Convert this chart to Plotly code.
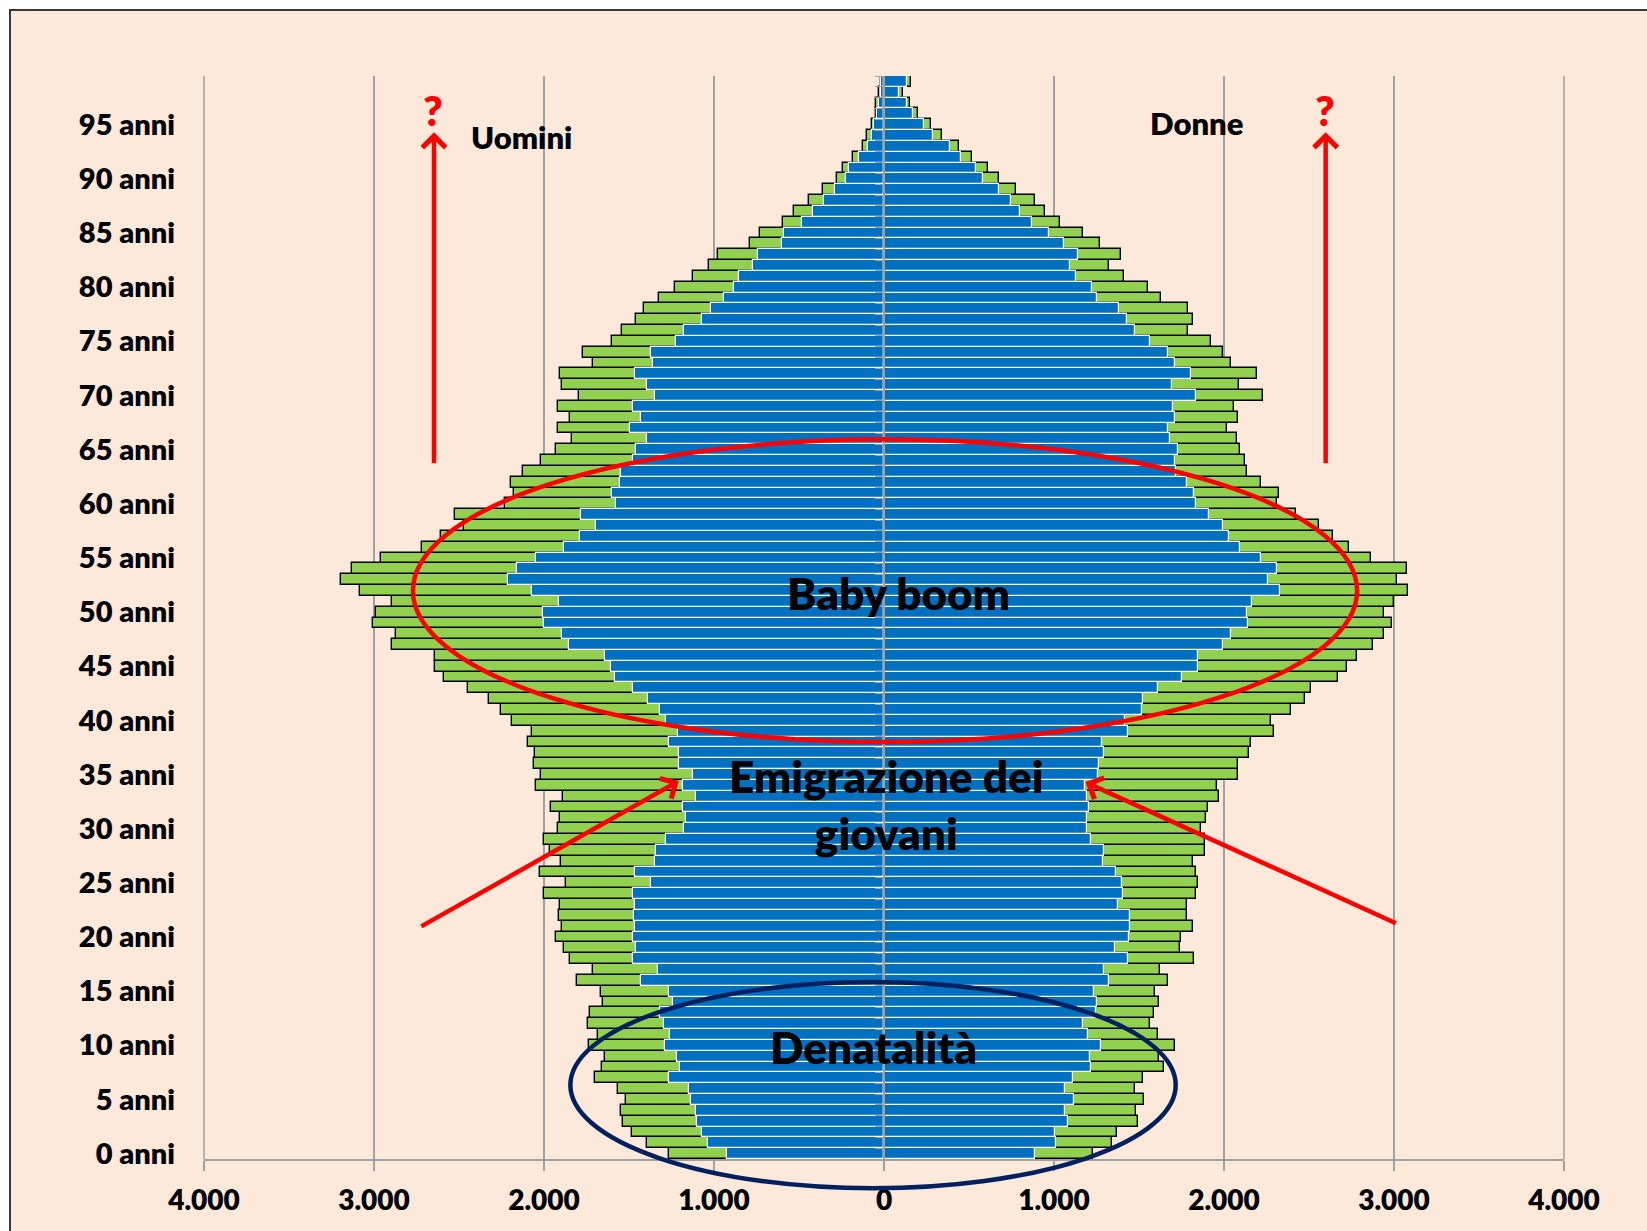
import plotly.graph_objects as go

# ---------------- data (ages 0..99) ----------------
eta = list(range(100))

uomini_blu = [926, 1034, 1073, 1098, 1107, 1134, 1147, 1264, 1201, 1215,
              1287, 1260, 1296, 1316, 1244, 1264, 1429, 1332, 1478, 1456,
              1478, 1465, 1469, 1465, 1478, 1373, 1467, 1346, 1339, 1282,
              1174, 1163, 1181, 1107, 1181, 1125, 1204, 1204, 1267, 1213,
              1285, 1318, 1388, 1474, 1584, 1607, 1639, 1855, 1895, 2001,
              2008, 1913, 2071, 2211, 2157, 2046, 1880, 1787, 1695, 1780,
              1575, 1602, 1555, 1546, 1474, 1458, 1395, 1492, 1431, 1474,
              1345, 1393, 1467, 1361, 1370, 1226, 1176, 1073, 1019, 944,
              881, 854, 769, 739, 600, 588, 480, 415, 354, 291,
              223, 207, 149, 95, 72, 59, 41, 32, 20, 20]

uomini_verde = [1267, 1395, 1485, 1535, 1546, 1515, 1564, 1699, 1659, 1641,
                1735, 1684, 1740, 1731, 1652, 1666, 1803, 1711, 1850, 1884,
                1929, 1893, 1913, 1904, 1999, 1873, 2026, 1898, 1965, 2001,
                1920, 1904, 1961, 1889, 2046, 2017, 2058, 2051, 2096, 2069,
                2191, 2252, 2326, 2448, 2587, 2639, 2639, 2892, 2871, 3007,
                2991, 2896, 3083, 3194, 3130, 2957, 2720, 2603, 2472, 2524,
                2229, 2175, 2193, 2125, 2017, 1932, 1837, 1920, 1848, 1916,
                1792, 1893, 1907, 1711, 1771, 1598, 1542, 1460, 1411, 1323,
                1231, 1122, 1028, 976, 789, 728, 597, 527, 439, 356,
                279, 243, 180, 122, 99, 72, 50, 45, 27, 20]

donne_blu = [886, 1010, 1003, 1084, 1062, 1120, 1066, 1114, 1219, 1213,
             1278, 1199, 1172, 1246, 1255, 1233, 1325, 1296, 1433, 1361,
             1440, 1447, 1447, 1379, 1406, 1399, 1363, 1289, 1294, 1219,
             1197, 1192, 1206, 1192, 1181, 1260, 1264, 1296, 1285, 1435,
             1417, 1519, 1525, 1609, 1755, 1849, 1849, 1995, 2043, 2144,
             2133, 2166, 2331, 2261, 2313, 2216, 2092, 2027, 1993, 1914,
             1838, 1824, 1784, 1719, 1712, 1732, 1685, 1672, 1710, 1701,
             1838, 1692, 1804, 1714, 1671, 1566, 1476, 1431, 1384, 1255,
             1226, 1132, 1096, 1141, 1057, 970, 868, 799, 745, 679,
             585, 540, 450, 389, 288, 236, 173, 135, 90, 135]

donne_verde = [1231, 1341, 1372, 1496, 1483, 1532, 1478, 1521, 1645, 1620,
               1712, 1609, 1564, 1586, 1620, 1593, 1669, 1622, 1822, 1744,
               1748, 1818, 1784, 1780, 1838, 1847, 1838, 1815, 1890, 1887,
               1865, 1892, 1903, 1973, 1959, 2085, 2083, 2148, 2157, 2297,
               2274, 2396, 2475, 2511, 2668, 2722, 2783, 2877, 2943, 2988,
               2943, 2999, 3084, 3019, 3078, 2862, 2733, 2643, 2560, 2423,
               2310, 2322, 2218, 2133, 2126, 2097, 2074, 2020, 2083, 2061,
               2227, 2088, 2196, 2043, 1996, 1926, 1789, 1816, 1791, 1627,
               1550, 1411, 1321, 1393, 1271, 1168, 1033, 945, 889, 776,
               677, 614, 520, 439, 340, 274, 200, 153, 112, 157]

tick_eta = list(range(0, 100, 5))
tick_eta_text = [f"{a} anni" for a in tick_eta]
tick_x = [-4000, -3000, -2000, -1000, 0, 1000, 2000, 3000, 4000]
tick_x_text = ["4.000", "3.000", "2.000", "1.000", "0", "1.000", "2.000", "3.000", "4.000"]

# ---------------- styles ----------------
FONT = "Lato, Carlito, Calibri, 'Open Sans', sans-serif"
WEIGHT = 800
GREEN = "#92D050"
BLUE = "#0070C0"
PEACH = "#FDE9D9"
GRID = "#A0A0A0"
RED = "#FF0000"
NAVY = "#002060"

XMIN, XMAX = -4000, 4000
YMIN, YMAX = -0.5, 99.5


def xp(v):
    return (v - XMIN) / (XMAX - XMIN)


def yp(a):
    return (a - YMIN) / (YMAX - YMIN)


fig = go.Figure()

green_style = dict(color=GREEN, line=dict(color="black", width=1.4))
blue_style = dict(color=BLUE, line=dict(color="white", width=1.2))

fig.add_trace(go.Bar(y=eta, x=[-v for v in uomini_verde], orientation="h",
                     marker=green_style, width=1.0, showlegend=False, hoverinfo="skip"))
fig.add_trace(go.Bar(y=eta, x=donne_verde, orientation="h",
                     marker=green_style, width=1.0, showlegend=False, hoverinfo="skip"))
fig.add_trace(go.Bar(y=eta, x=[-v for v in uomini_blu], orientation="h",
                     marker=blue_style, width=1.0, showlegend=False, hoverinfo="skip"))
fig.add_trace(go.Bar(y=eta, x=donne_blu, orientation="h",
                     marker=blue_style, width=1.0, showlegend=False, hoverinfo="skip"))
# invisible trace so that the central axis (yaxis2) is drawn
fig.add_trace(go.Scatter(x=[0], y=[0], yaxis="y2", mode="markers",
                         marker=dict(opacity=0), showlegend=False, hoverinfo="skip"))

W, H = 1647, 1231
L, R, T, B = 204, 83, 76, 72

fig.update_layout(
    template="none",
    width=W, height=H,
    margin=dict(l=L, r=R, t=T, b=B, pad=0),
    paper_bgcolor="white",
    plot_bgcolor="rgba(0,0,0,0)",
    barmode="overlay",
    bargap=0,
    font=dict(family=FONT, color="black"),
    xaxis=dict(range=[XMIN, XMAX], tickmode="array", tickvals=tick_x, ticktext=tick_x_text,
               tickfont=dict(family=FONT, size=28, color="black", weight=WEIGHT),
               showgrid=True, gridcolor=GRID, gridwidth=1.5, zeroline=False,
               showline=True, linecolor=GRID, linewidth=1.5,
               ticks="outside", ticklen=10, tickwidth=1.5, tickcolor=GRID,
               ticklabelstandoff=6, fixedrange=True),
    yaxis=dict(range=[YMIN, YMAX], tickmode="array", tickvals=tick_eta, ticktext=tick_eta_text,
               tickfont=dict(family=FONT, size=29, color="black", weight=WEIGHT),
               showgrid=False, zeroline=False, showline=False, ticks="",
               ticklabelstandoff=28, fixedrange=True),
    yaxis2=dict(range=[YMIN, YMAX], overlaying="y", anchor="free", position=0.5, side="left",
                tickmode="linear", tick0=-0.5, dtick=1, ticks="outside", ticklen=8,
                tickwidth=1.2, tickcolor=GRID, showticklabels=False, showgrid=False,
                zeroline=False, showline=True, linecolor=GRID, linewidth=1.5,
                layer="above traces", fixedrange=True),
)

PW = W - L - R
PH = H - T - B


def pxx(x):
    return (x - L) / PW


def pxy(y):
    return (H - B - y) / PH


shapes = []
# background frame
shapes.append(dict(type="rect", xref="paper", yref="paper",
                   x0=pxx(10), x1=pxx(W + 40), y0=pxy(H + 40), y1=pxy(10),
                   line=dict(color="#3A3A3A", width=2), fillcolor=PEACH, layer="below"))
# gridlines at the outer edges of the value axis (-4000 / 4000)
for edge in (0, 1):
    shapes.append(dict(type="line", xref="paper", yref="paper",
                       x0=edge, x1=edge, y0=0, y1=1,
                       line=dict(color=GRID, width=1.5), layer="below"))
# red ellipse (Baby boom)
shapes.append(dict(type="circle", xref="paper", yref="paper",
                   x0=xp(-2771), x1=xp(2783), y0=yp(38.0), y1=yp(65.95),
                   line=dict(color=RED, width=4.5), layer="above"))
# navy ellipse (Denatalità)
shapes.append(dict(type="circle", xref="paper", yref="paper",
                   x0=xp(-1845), x1=xp(1716), y0=yp(-3.2), y1=yp(15.85),
                   line=dict(color=NAVY, width=4.5), layer="above"))
fig.update_layout(shapes=shapes)

ann = []


def text(x, y, s, size, color="black"):
    ann.append(dict(xref="paper", yref="paper", x=pxx(x), y=pxy(y), text=s, showarrow=False,
                    xanchor="center", yanchor="middle",
                    font=dict(family=FONT, size=size, color=color, weight=WEIGHT)))


text(521, 137, "Uomini", 31)
text(1196, 123, "Donne", 31)
text(433, 110, "?", 42, RED)
text(1325, 110, "?", 42, RED)
text(898, 593, "Baby boom", 44)
text(886, 804, "Emigrazione dei<br>giovani", 44)
text(873, 1047, "Denatalità", 44)


def arrow(x_tip, y_tip, x_tail, y_tail):
    ann.append(dict(xref="x", yref="y", axref="x", ayref="y",
                    x=x_tip, y=y_tip, ax=x_tail, ay=y_tail, text="",
                    showarrow=True, arrowhead=4, arrowsize=1, arrowwidth=4.5,
                    arrowcolor=RED, standoff=0, startstandoff=0))


arrow(-2647, 94.3, -2647, 63.6)
arrow(2598, 94.3, 2598, 63.6)
arrow(-1207, 34.4, -2731, 20.9)
arrow(1185, 34.3, 3020, 21.2)

fig.update_layout(annotations=ann)

fig.write_html("out.html", config={"displayModeBar": False},
               post_script="document.body.style.margin='0';")
